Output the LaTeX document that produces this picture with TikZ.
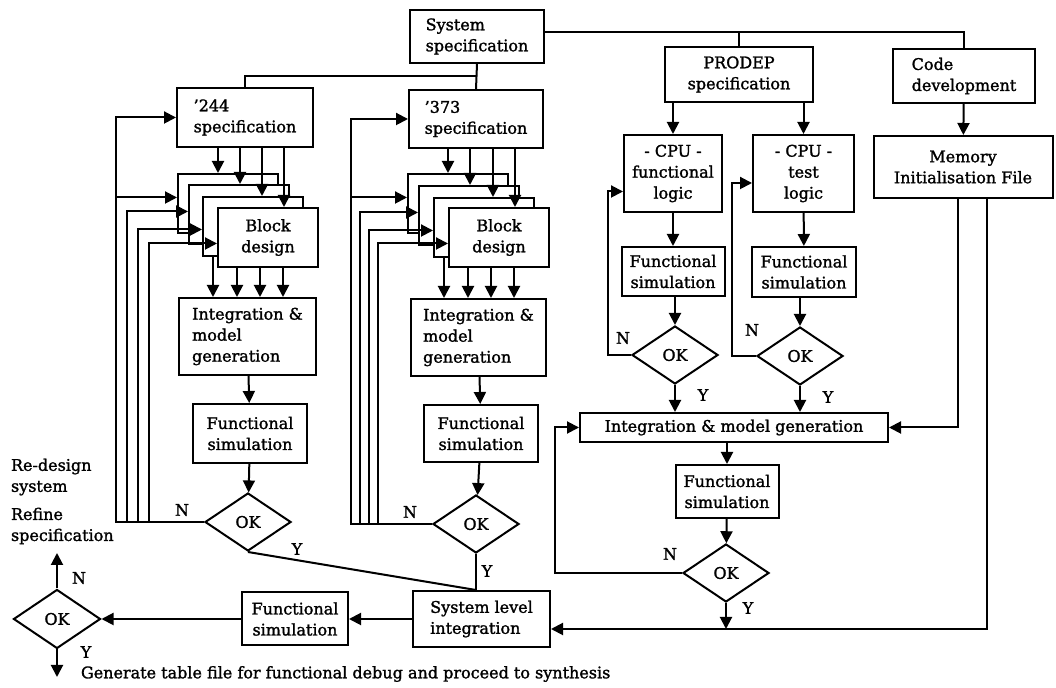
\documentclass[tikz,border=0pt]{standalone}
\usepackage{fontspec}
\setmainfont{DejaVu Serif}[FakeBold=1.5]
\usetikzlibrary{arrows.meta,shapes.geometric,calc}

\begin{document}
\begin{tikzpicture}[x=0.5pt, y=-0.5pt, line width=1pt,
    >={Triangle[length=6pt,width=6pt]},
    font=\fontsize{8}{10.5}\selectfont,
    box/.style={draw, fill=white, inner sep=0pt, align=center},
    lbox/.style={box, align=left},
    sbox/.style={box, anchor=north west, minimum width=50pt, minimum height=29.5pt},
    dec/.style={draw, diamond, inner sep=0pt, minimum width=43pt, minimum height=29pt},
    lab/.style={inner sep=0pt}]
    \useasboundingbox (0,0) rectangle (1056,688);

    % 顶层方框
    \node[lbox, minimum width=67pt, minimum height=26.5pt] (sys) at (477,36.5) {System\\specification};
    \node[box, minimum width=74pt, minimum height=27.5pt] (prodep) at (739,74.5) {PRODEP\\specification};
    \node[lbox, minimum width=71pt, minimum height=27pt] (code) at (964,76) {Code\\development};
    \node[box, minimum width=89.5pt, minimum height=31pt] (mem) at (963,167) {Memory\\Initialisation File};

    % '244 一列
    \node[lbox, minimum width=68pt, minimum height=29.5pt] (s244) at (245,117.5) {'244\\specification};
    \foreach \n/\x/\y in {a/177/173, b/188/184, c/202/196}
        \node[sbox] (b244\n) at (\x,\y) {};
    \node[sbox] (b244d) at (217,207) {Block\\design};
    \node[lbox, minimum width=68.5pt, minimum height=38.5pt] (i244) at (247.5,336.5) {Integration \&\\model\\generation};
    \node[box, minimum width=57pt, minimum height=29.5pt] (fs244) at (250,433.5) {Functional\\simulation};
    \node[dec] (ok244) at (248,522) {OK};

    % '373 一列
    \node[lbox, minimum width=67pt, minimum height=29pt] (s373) at (476,119) {'373\\specification};
    \foreach \n/\x/\y in {a/407/173, b/418/185, c/433/197}
        \node[sbox] (b373\n) at (\x,\y) {};
    \node[sbox] (b373d) at (448,207) {Block\\design};
    \node[lbox, minimum width=67.5pt, minimum height=38.5pt] (i373) at (478.5,337.5) {Integration \&\\model\\generation};
    \node[box, minimum width=57pt, minimum height=28.5pt] (fs373) at (481,433.5) {Functional\\simulation};
    \node[dec] (ok373) at (476,524) {OK};

    % PRODEP 两列
    \node[box, minimum width=49pt, minimum height=38.5pt] (cpuf) at (673,173.5) {- CPU -\\functional\\logic};
    \node[box, minimum width=50.5pt, minimum height=38.5pt] (cput) at (803.5,173.5) {- CPU -\\test\\logic};
    \node[box, minimum width=51.5pt, minimum height=24.5pt] (fsf) at (673,271.5) {Functional\\simulation};
    \node[box, minimum width=52pt, minimum height=25pt] (fst) at (804,272) {Functional\\simulation};
    \node[dec] (okf) at (675,355) {OK};
    \node[dec] (okt) at (800,356) {OK};
    \node[box, minimum width=154pt, minimum height=14.5pt] (intm) at (734,427.5) {Integration \& model generation};
    \node[box, minimum width=51.5pt, minimum height=26.5pt] (fsm) at (727,491.5) {Functional\\simulation};
    \node[dec] (okm) at (726,573) {OK};

    % 底部一行
    \node[lbox, minimum width=68.5pt, minimum height=28pt] (syslvl) at (481.5,619) {System level\\integration};
    \node[box, minimum width=53pt, minimum height=26.5pt] (fsb) at (295,619) {Functional\\simulation};
    \node[dec, minimum width=43.5pt, minimum height=29.5pt] (okb) at (57,619) {OK};
    \coordinate (redesign) at (57,553);
    \coordinate (synth) at (57,677);

    % 文字说明
    \node[lab, anchor=west, align=left] (redes) at (10,477) {Re-design\\system};
    \node[lab, anchor=west, align=left] (refine) at (10,526) {Refine\\specification};
    \node[lab, anchor=west] (gen) at (80,674) {Generate table file for functional debug and proceed to synthesis};

    % 系统规格的分支
    \coordinate (j1) at ($(sys.south)!0.5!(s373.north)$);
    \draw (sys.south) -- (s373.north);
    \draw (s244.north) |- (j1);
    \draw ([yshift=2pt]sys.east) -| (code.north);
    \draw (prodep.north) |- ([yshift=2pt]sys.east);

    % '244 和 '373 内部连线
    \foreach \c in {244, 373} {
        \foreach \n/\d in {a/41, b/52, c/60, d/67} {
            \path (b\c\n.north west) ++(\d,0) coordinate (p);
            \draw[->] (s\c.south -| p) -- (p);
        }
        \path (b\c c.south west) ++(11,0) coordinate (p);
        \draw[->] (p) -- (p |- i\c.north);
        \foreach \d in {20, 43, 66} {
            \path (b\c d.south west) ++(\d,0) coordinate (p);
            \draw[->] (p) -- (p |- i\c.north);
        }
        \draw[->] (i\c) -- (fs\c);
        \draw[->] (fs\c) -- (ok\c);
    }

    % 反馈线 (N)
    \draw[->] (ok244.west) -- ++(-88,0) |- (s244.west);
    \foreach \n/\dx/\dy in {a/-88/3, b/-77/1.5, c/-66/-1.5, d/-55/-3}
        \draw[->] (ok244.west) ++(\dx,0) |- ([yshift=\dy pt]b244\n.west);
    \draw[->] (ok373.west) -- ++(-81,0) |- (s373.west);
    \foreach \n/\dx/\dy in {a/-81/3, b/-72/1.5, c/-63/-1.5, d/-54/-3}
        \draw[->] (ok373.west) ++(\dx,0) |- ([yshift=\dy pt]b373\n.west);

    % Y 到系统级集成
    \draw (ok244.south) -- (ok373.south |- syslvl.north);
    \draw (ok373.south) -- (ok373.south |- syslvl.north);

    % PRODEP 部分
    \draw[->] (cpuf.north |- prodep.south) -- (cpuf.north);
    \draw[->] (cput.north |- prodep.south) -- (cput.north);
    \draw[->] (code) -- (mem);
    \draw[->] (cpuf) -- (fsf);
    \draw[->] (cput) -- (fst);
    \draw[->] (fsf.south -| okf) -- (okf);
    \draw[->] (fst.south -| okt) -- (okt);
    \draw[->] (okf.west) -- ++(-23,0) |- ([yshift=-9pt]cpuf.west);
    \draw[->] (okt.west) -- ++(-24,0) |- ([yshift=-4.75pt]cput.west);
    \draw[->] (okf.south) -- (okf.south |- intm.north);
    \draw[->] (okt.south) -- (okt.south |- intm.north);
    \draw[->] ([xshift=-2.5pt]mem.south) |- (intm.east);
    \draw[->] (fsm.north |- intm.south) -- (fsm.north);
    \draw[->] (fsm) -- (okm);
    \draw[->] (okm.west) -- ++(-127,0) |- (intm.west);
    \coordinate (sl) at ([yshift=-5pt]syslvl.east);
    \draw[->] ([xshift=12pt]mem.south) |- (sl);
    \draw[->] (okm.south) -- (okm.south |- sl);

    % 底部
    \draw[->] (syslvl) -- (fsb);
    \draw[->] (fsb) -- (okb);
    \draw[->] (okb) -- (redesign);
    \draw[->] (okb) -- (synth);

    % N / Y 标注
    \node[lab] (n244) at (182,510) {N};
    \node[lab] (y244) at (297,549) {Y};
    \node[lab] (n373) at (410,512) {N};
    \node[lab] (y373) at (487,571) {Y};
    \node[lab] (nf) at (623,338) {N};
    \node[lab] (yf) at (703,395) {Y};
    \node[lab] (nt) at (752,330) {N};
    \node[lab] (yt) at (828,397) {Y};
    \node[lab] (nm) at (670,554) {N};
    \node[lab] (ym) at (748,608) {Y};
    \node[lab] (nb) at (79,578) {N};
    \node[lab] (yb) at (86,652) {Y};
\end{tikzpicture}
\end{document}
